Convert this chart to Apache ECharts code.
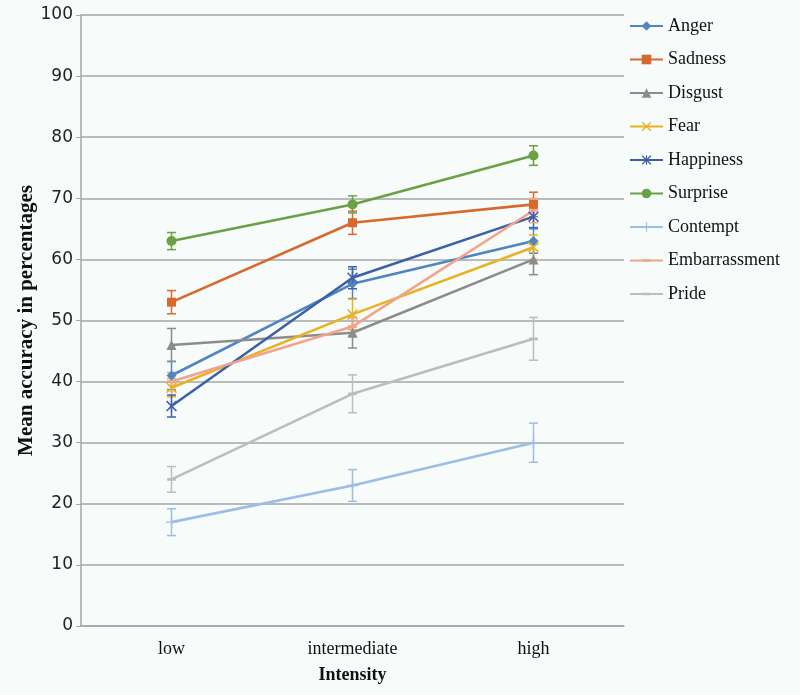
<!DOCTYPE html>
<html>
<head>
<meta charset="utf-8">
<script src="https://cdn.jsdelivr.net/npm/echarts@6/dist/echarts.min.js"></script>
<style>
  html, body { margin: 0; padding: 0; background: #f7fbfa; }
  #chart { width: 800px; height: 695px; }
</style>
</head>
<body>
<div id="chart"></div>
<script>
const categories = ['low', 'intermediate', 'high']
const yTicks = [0, 10, 20, 30, 40, 50, 60, 70, 80, 90, 100]

const seriesNames = ['Anger', 'Sadness', 'Disgust', 'Fear', 'Happiness', 'Surprise', 'Contempt', 'Embarrassment', 'Pride']
const anger = [41, 56, 63]
const sadness = [53, 66, 69]
const disgust = [46, 48, 60]
const fear = [39, 51, 62]
const happiness = [36, 57, 67]
const surprise = [63, 69, 77]
const contempt = [17, 23, 30]
const embarrassment = [40, 49, 68]
const pride = [24, 38, 47]

// half-width of the error bars
const angerErr = [2.3, 2.4, 2.0]
const sadnessErr = [1.9, 1.9, 2.0]
const disgustErr = [2.7, 2.5, 2.5]
const fearErr = [1.5, 2.5, 2.0]
const happinessErr = [1.8, 1.8, 1.8]
const surpriseErr = [1.4, 1.4, 1.6]
const contemptErr = [2.2, 2.6, 3.2]
const embarrassmentErr = [1.5, 1.5, 2.0]
const prideErr = [2.1, 3.1, 3.5]

const values = [anger, sadness, disgust, fear, happiness, surprise, contempt, embarrassment, pride]
const errors = [angerErr, sadnessErr, disgustErr, fearErr, happinessErr, surpriseErr, contemptErr, embarrassmentErr, prideErr]
const colors = ['#4f86c0', '#d8692c', '#8c8c8c', '#e8b224', '#3d60a8', '#6aa145', '#9dbde6', '#f2a38e', '#bdbdbd']

const crossPath = 'path://M0,1L1,0L5,4L9,0L10,1L6,5L10,9L9,10L5,6L1,10L0,9L4,5Z'
const plusPath = 'path://M4.4,0H5.6V4.4H10V5.6H5.6V10H4.4V5.6H0V4.4H4.4Z'
const starPath = 'path://M0,1L1,0L5,4L9,0L10,1L6,5L10,9L9,10L5,6L1,10L0,9L4,5ZM4.4,0H5.6V10H4.4Z'
// short flat dash, kept square by two tiny corner specks
const dashPath = 'path://M0,0L0.05,0L0.05,0.05ZM1,3.8H9V6.2H1ZM10,10L9.95,10L9.95,9.95Z'
const symbols = ['diamond', 'rect', 'triangle', crossPath, starPath, 'circle', plusPath, dashPath, dashPath]
const symbolSizes = [10, 9, 10, 11, 11, 10, 11, 11, 11]

const chart = echarts.init(document.getElementById('chart'), null, { renderer: 'canvas' })

const lineSeries = seriesNames.map((name, i) => ({
  name,
  type: 'line',
  data: values[i],
  symbol: symbols[i],
  symbolSize: symbolSizes[i],
  showAllSymbol: true,
  color: colors[i],
  lineStyle: { width: 2.6, color: colors[i] },
  itemStyle: { color: colors[i] },
  z: 3,
}))

const errorSeries = seriesNames.map((name, i) => ({
  name: name + ' error',
  type: 'custom',
  color: colors[i],
  data: values[i].map((v, j) => [j, v - errors[i][j], v + errors[i][j]]),
  renderItem: (params, api) => {
    const lo = api.coord([api.value(0), api.value(1)])
    const hi = api.coord([api.value(0), api.value(2)])
    const cap = 4.5
    const style = { stroke: colors[i], lineWidth: 1.5 }
    return {
      type: 'group',
      children: [
        { type: 'line', shape: { x1: lo[0], y1: lo[1], x2: hi[0], y2: hi[1] }, style },
        { type: 'line', shape: { x1: lo[0] - cap, y1: lo[1], x2: lo[0] + cap, y2: lo[1] }, style },
        { type: 'line', shape: { x1: hi[0] - cap, y1: hi[1], x2: hi[0] + cap, y2: hi[1] }, style },
      ],
    }
  },
  encode: { x: 0, y: [1, 2] },
  z: 2,
  silent: true,
}))

chart.setOption({
  backgroundColor: '#f7fbfa',
  animation: false,
  legend: {
    orient: 'vertical',
    left: 624,
    top: 12,
    itemWidth: 33,
    itemHeight: 12,
    itemGap: 15.5,
    data: seriesNames,
    textStyle: { fontFamily: 'Liberation Serif', fontSize: 18, color: '#111' },
  },
  grid: { left: 81, right: 176, top: 15, bottom: 69, outerBoundsMode: 'none' },
  xAxis: {
    type: 'category',
    data: categories,
    name: 'Intensity',
    nameLocation: 'middle',
    nameGap: 40,
    nameTextStyle: { fontFamily: 'Liberation Serif', fontSize: 18, fontWeight: 'bold', color: '#111' },
    axisLine: { lineStyle: { color: '#a6a6a6', width: 1.5 } },
    axisTick: { lineStyle: { color: '#a6a6a6' }, length: 5 },
    axisLabel: { fontFamily: 'Liberation Serif', fontSize: 18, color: '#111', margin: 14 },
  },
  yAxis: {
    type: 'value',
    min: 0,
    max: 100,
    interval: 10,
    name: 'Mean accuracy in percentages',
    nameLocation: 'middle',
    nameGap: 44,
    nameMoveOverlap: false,
    nameTextStyle: { fontFamily: 'Liberation Serif', fontSize: 21, fontWeight: 'bold', color: '#111' },
    axisLine: { show: true, lineStyle: { color: '#a6a6a6', width: 1.5 } },
    axisTick: { show: true, lineStyle: { color: '#a6a6a6' }, length: 5 },
    axisLabel: {
      fontFamily: 'DejaVu Sans',
      fontSize: 17,
      color: '#222',
      margin: 8,
      formatter: (v) => (yTicks.includes(v) ? String(v) : ''),
    },
    splitLine: { lineStyle: { color: '#a6a6a6', width: 1.5 } },
  },
  series: [...errorSeries, ...lineSeries],
})
</script>
</body>
</html>
